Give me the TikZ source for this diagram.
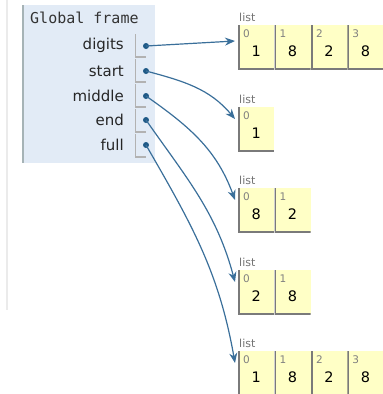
\documentclass[tikz,border=0pt]{standalone}
\usepackage{fontspec}
\setmainfont{DejaVu Sans}
\newfontfamily\framefont{DejaVu Sans Mono}
\usetikzlibrary{arrows.meta,positioning,calc}
\definecolor{fbg}{HTML}{E2EBF6}
\definecolor{fline}{HTML}{A6B3B6}
\definecolor{ybg}{HTML}{FFFFC6}
\definecolor{cline}{HTML}{7A7A7A}
\definecolor{mptr}{HTML}{3A6F9A}
\definecolor{mdot}{HTML}{1F5A87}
\tikzstyle{var}=[anchor=east, inner sep=0pt, font=\fontsize{15}{18}\selectfont, text=black!85]
\tikzstyle{slot}=[anchor=north west, inner sep=0pt, minimum width=11pt, minimum height=23pt,
    path picture={\draw[black!30, line width=2.4] (path picture bounding box.north west) -- (path picture bounding box.south west) -- (path picture bounding box.south east);}]
\tikzstyle{dot}=[circle, fill=mdot, inner sep=0pt, minimum size=6pt]
\tikzstyle{cell}=[anchor=north west, inner sep=0pt, minimum width=36pt, minimum height=44pt, fill=ybg,
    font=\fontsize{14.5}{17}\selectfont, text height=18pt, text depth=0pt,
    path picture={\draw[cline, line width=3] (path picture bounding box.north west) -- (path picture bounding box.south west) -- (path picture bounding box.south east);}]
\tikzstyle{idx}=[anchor=north west, inner xsep=5pt, inner ysep=5pt, font=\fontsize{10.5}{12}\selectfont, text=black!50]
\tikzstyle{tag}=[anchor=south west, inner sep=0pt, font=\fontsize{11}{13}\selectfont, text=black!55]
\tikzstyle{ptr}=[mptr, line width=1.2, -{Stealth[length=10pt,width=8pt]}]

\begin{document}
\begin{tikzpicture}[x=1pt, y=-1pt]
    \useasboundingbox (0,0) rectangle (383,394);
    \draw[black!8, line width=2] (7,0) -- (7,310);

    % global frame
    \fill[fbg] (22,5) rectangle (155,163);
    \draw[fline, line width=2] (23,5) -- (23,163);
    \node[anchor=west, inner sep=0pt, font=\framefont\fontsize{15}{18}\selectfont, text=black!80] at (30,18) (gf) {Global frame};

    \node[var] at (124,45) (digits) {digits};
    \node[var] at (124,71) (start) {start};
    \node[var] at (124,96) (middle) {middle};
    \node[var] at (124,120) (end) {end};
    \node[var] at (124,145) (full) {full};

    \node[slot] at (135,34) (s1) {};
    \node[slot] at (135,59) (s2) {};
    \node[slot] at (135,84) (s3) {};
    \node[slot] at (135,109) (s4) {};
    \node[slot] at (135,134) (s5) {};

    \node[dot] at (146,46) (d1) {};
    \node[dot] at (146,71) (d2) {};
    \node[dot] at (146,96) (d3) {};
    \node[dot] at (146,120) (d4) {};
    \node[dot] at (146,145) (d5) {};

    % digits
    \node[cell, label={[idx]north west:0}] at (238,25) (a0) {1};
    \node[cell, label={[idx]north west:1}, right=0pt of a0] (a1) {8};
    \node[cell, label={[idx]north west:2}, right=0pt of a1] (a2) {2};
    \node[cell, label={[idx]north west:3}, right=0pt of a2] (a3) {8};
    \node[tag, above right=3pt and 1pt of a0.north west] (la) {list};

    % start
    \node[cell, label={[idx]north west:0}] at (238,107) (b0) {1};
    \node[tag, above right=3pt and 1pt of b0.north west] (lb) {list};

    % middle
    \node[cell, label={[idx]north west:0}] at (238,188) (c0) {8};
    \node[cell, label={[idx]north west:1}, right=0pt of c0] (c1) {2};
    \node[tag, above right=3pt and 1pt of c0.north west] (lc) {list};

    % end
    \node[cell, label={[idx]north west:0}] at (238,270) (e0) {2};
    \node[cell, label={[idx]north west:1}, right=0pt of e0] (e1) {8};
    \node[tag, above right=3pt and 1pt of e0.north west] (le) {list};

    % full
    \node[cell, label={[idx]north west:0}] at (238,351) (f0) {1};
    \node[cell, label={[idx]north west:1}, right=0pt of f0] (f1) {8};
    \node[cell, label={[idx]north west:2}, right=0pt of f1] (f2) {2};
    \node[cell, label={[idx]north west:3}, right=0pt of f2] (f3) {8};
    \node[tag, above right=3pt and 1pt of f0.north west] (lf) {list};

    \draw[ptr] (d1.center) -- ([shift={(-3,16)}]a0.north west);
    \draw[ptr] (d2.center) to[out=-15, in=130] ([shift={(-3,12)}]b0.north west);
    \draw[ptr] (d3.center) to[out=-35, in=110] ([shift={(-3,12)}]c0.north west);
    \draw[ptr] (d4.center) to[out=-55, in=105] ([shift={(-3,12)}]e0.north west);
    \draw[ptr] (d5.center) to[out=-60, in=100] ([shift={(-3,12)}]f0.north west);
\end{tikzpicture}
\end{document}
